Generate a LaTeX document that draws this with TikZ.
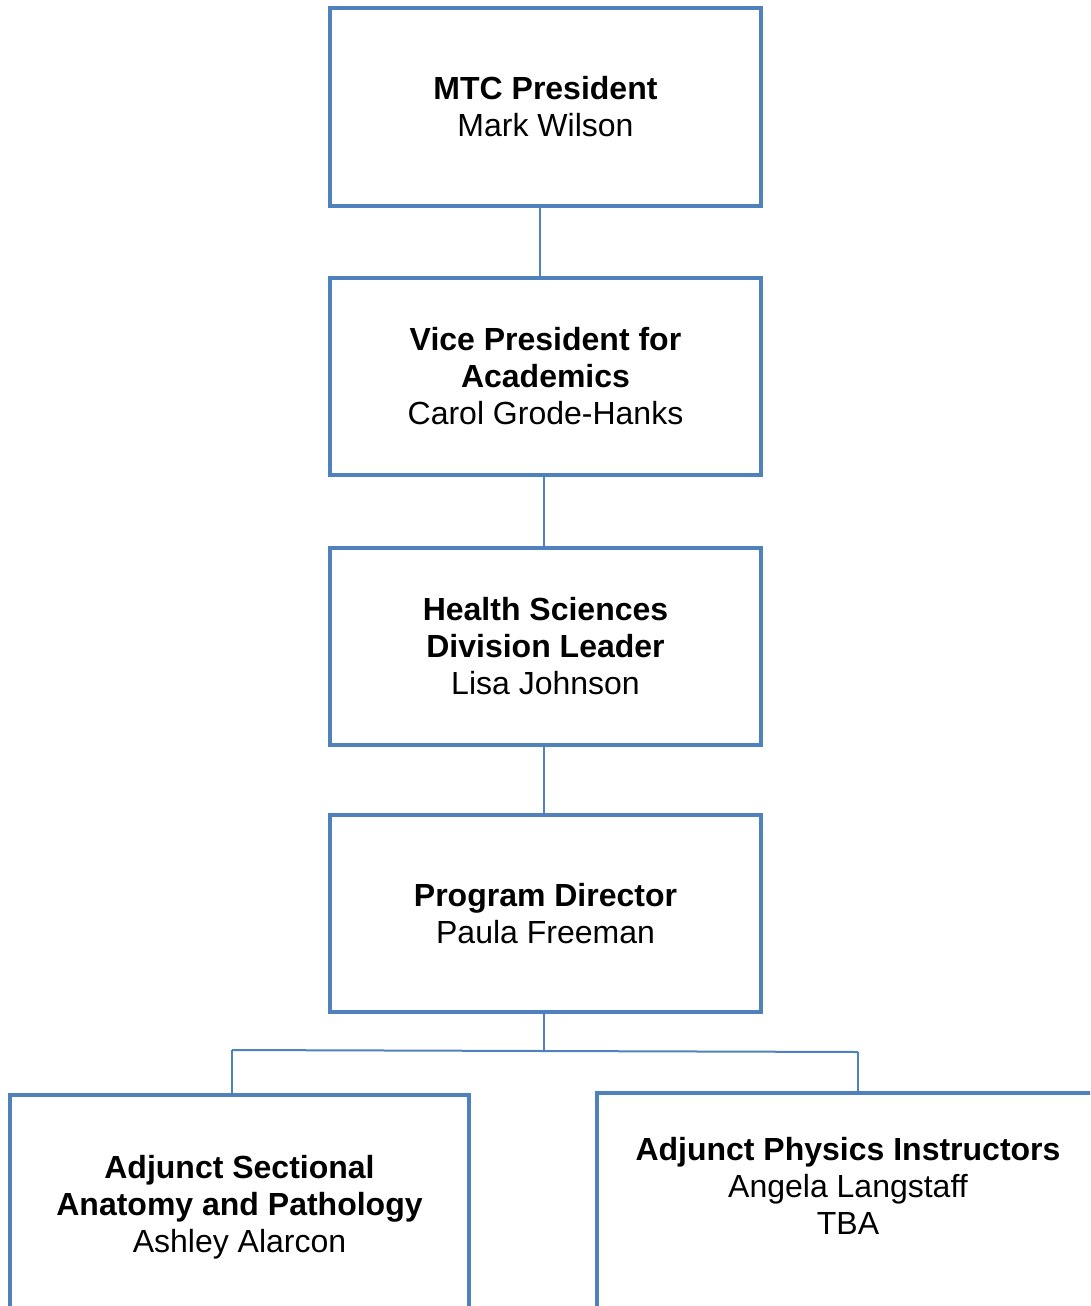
\documentclass[tikz,border=0pt]{standalone}
\usepackage{fontspec}
\setmainfont{Liberation Sans}
\definecolor{boxblue}{HTML}{4F81BD}
\begin{document}
\begin{tikzpicture}[x=1pt,y=-1pt,
  orgbox/.style={draw=boxblue,line width=4pt,fill=white,align=center,
    font=\fontsize{32}{37}\selectfont,inner sep=0pt,
    minimum width=#1,minimum height=197pt},
  conn/.style={draw=boxblue,line width=2pt}]
\useasboundingbox (0,0) rectangle (1090,1306);
\clip (0,0) rectangle (1090,1306);
\node[orgbox=431pt] (pres) at (545.5,107) {\textbf{MTC President}\\Mark Wilson};
\node[orgbox=431pt] (vp) at (545.5,376.5) {\textbf{Vice President for}\\\textbf{Academics}\\Carol Grode-Hanks};
\node[orgbox=431pt] (hs) at (545.5,646.5) {\textbf{Health Sciences}\\\textbf{Division Leader}\\Lisa Johnson};
\node[orgbox=431pt] (pd) at (545.5,913.5) {\textbf{Program Director}\\Paula Freeman};
\node[orgbox=459pt,minimum height=224pt] (adj1) at (239.5,1207) {\textbf{Adjunct Sectional}\\\textbf{Anatomy and Pathology}\\Ashley Alarcon};
\node[orgbox=502pt,minimum height=260pt] (adj2) at (848,1223) {};
\node[align=center,font=\fontsize{32}{37}\selectfont,inner sep=0pt] (adj2t) at (848,1186) {\textbf{Adjunct Physics Instructors}\\Angela Langstaff\\TBA};
\coordinate (bl) at (232,1050);
\coordinate (br) at (858,1052);
\coordinate (bm) at (544,1051);
\draw[conn] (540,206) -- (540,278);
\draw[conn] (544,475) -- (544,548);
\draw[conn] (544,745) -- (544,817);
\draw[conn] (pd.south -| bm) -- (bm);
\draw[conn] (bl) -- (bm) -- (br);
\draw[conn] (bl) -- (bl |- adj1.north);
\draw[conn] (br) -- (br |- adj2.north);
\end{tikzpicture}
\end{document}
